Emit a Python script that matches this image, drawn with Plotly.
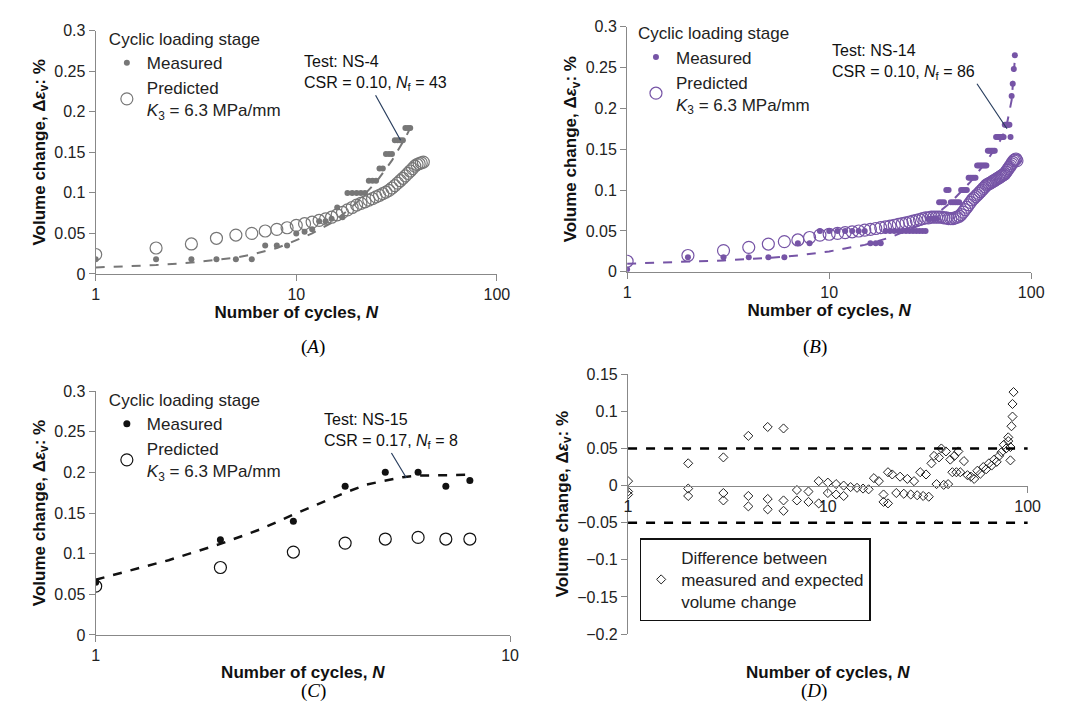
import plotly.graph_objects as go

# ---- Panel A (NS-4)
a_meas_n = list(range(1, 38))
a_meas_y = [0.018, 0.018, 0.018, 0.018, 0.018, 0.018, 0.035, 0.035, 0.035, 0.05,
            0.052, 0.055, 0.065, 0.065, 0.068, 0.082, 0.07, 0.1, 0.1, 0.1,
            0.1, 0.1, 0.115, 0.115, 0.115, 0.13, 0.13, 0.148, 0.148, 0.148,
            0.165, 0.165, 0.165, 0.165, 0.18, 0.18, 0.18]
a_pred_n = list(range(1, 44))
a_pred_y = [0.024, 0.032, 0.037, 0.044, 0.048, 0.05, 0.053, 0.055, 0.057, 0.06,
            0.062, 0.064, 0.066, 0.068, 0.07, 0.073, 0.076, 0.079, 0.082, 0.085,
            0.087, 0.089, 0.091, 0.093, 0.095, 0.097, 0.099, 0.101, 0.103, 0.106,
            0.109, 0.112, 0.115, 0.118, 0.121, 0.124, 0.127, 0.13, 0.133, 0.135,
            0.136, 0.137, 0.138]
a_fit_n = [1, 2, 3, 4, 5, 6, 7, 8, 9, 10, 12, 15, 18, 20, 25, 30, 35, 37]
a_fit_y = [0.008, 0.011, 0.014, 0.017, 0.02, 0.024, 0.028, 0.032, 0.037, 0.042,
           0.05, 0.063, 0.078, 0.088, 0.113, 0.14, 0.168, 0.18]

# ---- Panel B (NS-14)
b_meas_n = list(range(1, 84))
b_meas_y = [0.003, 0.018, 0.018, 0.018, 0.018, 0.018, 0.035, 0.035, 0.05, 0.05,
            0.05, 0.05, 0.05, 0.05, 0.05, 0.035, 0.035, 0.035, 0.05, 0.05,
            0.05, 0.05, 0.05, 0.05, 0.05, 0.05, 0.05, 0.05, 0.05, 0.05,
            0.065, 0.065, 0.065, 0.065, 0.085, 0.085, 0.085, 0.1, 0.1, 0.085,
            0.085, 0.085, 0.085, 0.085, 0.1, 0.1, 0.1, 0.1, 0.115, 0.115,
            0.115, 0.115, 0.115, 0.13, 0.13, 0.13, 0.13, 0.13, 0.13, 0.13,
            0.148, 0.148, 0.148, 0.148, 0.148, 0.148, 0.165, 0.165, 0.165, 0.165,
            0.165, 0.165, 0.165, 0.18, 0.18, 0.18, 0.18, 0.18, 0.165, 0.215,
            0.23, 0.248, 0.265]
b_pred_n = list(range(1, 86))
b_pred_y = [0.013, 0.02, 0.026, 0.03, 0.034, 0.037, 0.039, 0.042, 0.045, 0.046,
            0.047, 0.048, 0.049, 0.05, 0.051, 0.052, 0.053, 0.054, 0.055, 0.056,
            0.057, 0.058, 0.059, 0.06, 0.061, 0.062, 0.063, 0.064, 0.065, 0.066,
            0.066, 0.067, 0.067, 0.067, 0.067, 0.067, 0.066, 0.066, 0.065, 0.065,
            0.065, 0.066, 0.067, 0.068, 0.07, 0.073, 0.076, 0.079, 0.082, 0.085,
            0.088, 0.09, 0.092, 0.094, 0.096, 0.098, 0.1, 0.102, 0.104, 0.106,
            0.107, 0.108, 0.109, 0.11, 0.111, 0.112, 0.113, 0.114, 0.115, 0.116,
            0.117, 0.118, 0.119, 0.12, 0.122, 0.124, 0.126, 0.128, 0.13, 0.132,
            0.134, 0.136, 0.137, 0.138, 0.136]
b_fit_n = [1, 2, 3, 5, 7, 10, 15, 20, 30, 40, 50, 60, 70, 75, 80, 83]
b_fit_y = [0.01, 0.012, 0.014, 0.017, 0.02, 0.025, 0.033, 0.042, 0.06, 0.085,
           0.11, 0.135, 0.16, 0.175, 0.21, 0.26]

# ---- Panel C (NS-15)
c_n = [1, 2, 3, 4, 5, 6, 7, 8]
c_meas_y = [0.065, 0.117, 0.14, 0.183, 0.2, 0.2, 0.183, 0.19]
c_pred_y = [0.06, 0.083, 0.102, 0.113, 0.118, 0.12, 0.118, 0.118]
c_fit_n = [1, 1.5, 2, 2.5, 3, 3.5, 4, 4.5, 5, 5.5, 6, 7, 8]
c_fit_y = [0.068, 0.092, 0.112, 0.13, 0.148, 0.163, 0.175, 0.185, 0.19, 0.194, 0.196, 0.197, 0.197]

# ---- Panel D (differences)
d_n = [1, 1, 1, 2, 2, 2, 3, 3, 3, 4, 4, 4, 5, 5, 5, 6, 6, 6, 7, 7, 8, 8,
       9, 9, 10, 10, 11, 11, 12, 12, 13, 14, 15, 16, 17, 18, 19, 19, 20, 20,
       21, 22, 23, 24, 25, 26, 27, 28, 29, 30, 31, 32, 33, 34, 35, 36, 37, 38,
       39, 40, 41, 42, 43, 44, 45, 46, 48, 50, 52, 54, 56, 58, 60, 62, 64, 66,
       68, 70, 72, 74, 76, 78, 80, 80, 82, 82, 83, 84, 84, 85]
d_y = [0.006, -0.008, -0.012, 0.03, -0.004, -0.014, 0.038, -0.01, -0.02, 0.067, -0.014, -0.028,
       0.079, -0.018, -0.032, 0.077, -0.02, -0.034, -0.006, -0.02, -0.008, -0.022,
       0.006, -0.024, 0.004, -0.01, 0.002, -0.012, 0.0, -0.014, -0.002, -0.003, -0.004,
       -0.005, 0.01, 0.006, -0.022, -0.012, -0.024, 0.018, 0.015, -0.01, 0.012, -0.011,
       0.009, -0.012, 0.006, -0.013, 0.018, -0.014, 0.015, -0.015, 0.03, 0.04, 0.002, 0.038,
       0.05, 0.001, 0.046, 0.002, 0.035, 0.018, 0.04, 0.018, 0.046, 0.018, 0.033, 0.014,
       0.012, 0.009, 0.02, 0.016, 0.025, 0.022, 0.03, 0.027, 0.035, 0.032, 0.04, 0.045,
       0.055, 0.05, 0.06, 0.065, 0.034, 0.052, 0.08, 0.093, 0.11, 0.126]
d_limits = [0.05, -0.05]

font_tick = dict(family="Liberation Sans, Arial", size=16, color="#222")
font_leg = dict(family="Liberation Sans, Arial", size=17, color="#222")
font_title = dict(family="Liberation Sans, Arial", size=17, color="#111")
ytitle = "<b>Volume change, Δ<i>ε</i><sub>v</sub>: %</b>"
xtitle = "<b>Number of cycles, <i>N</i></b>"

fig = go.Figure()

panels = [
    ("x", "y", "legend", "#777777", a_meas_n, a_meas_y, a_pred_n, a_pred_y, a_fit_n, a_fit_y),
    ("x2", "y2", "legend2", "#7654a6", b_meas_n, b_meas_y, b_pred_n, b_pred_y, b_fit_n, b_fit_y),
    ("x3", "y3", "legend3", "#111111", c_n, c_meas_y, c_n, c_pred_y, c_fit_n, c_fit_y),
]
for xa, ya, lg, col, mn, my, pn, py, fn, fy in panels:
    big = xa == "x3"
    fig.add_trace(go.Scatter(x=fn, y=fy, mode="lines", xaxis=xa, yaxis=ya, showlegend=False,
                             line=dict(color=col, width=2.5 if big else 2, dash="dash")))
    fig.add_trace(go.Scatter(x=mn, y=my, mode="markers", xaxis=xa, yaxis=ya, legend=lg,
                             name="Measured",
                             marker=dict(color=col, size=7 if big else 6)))
    fig.add_trace(go.Scatter(x=pn, y=py, mode="markers", xaxis=xa, yaxis=ya, legend=lg,
                             name="Predicted<br><i>K</i><sub>3</sub> = 6.3 MPa/mm",
                             marker=dict(color="rgba(0,0,0,0)", size=12,
                                         line=dict(color=col, width=1.2))))

fig.add_trace(go.Scatter(x=d_n, y=d_y, mode="markers", xaxis="x4", yaxis="y4", legend="legend4",
                         name="Difference between<br>measured and expected<br>volume change",
                         marker=dict(symbol="diamond-open", size=7, color="#222",
                                     line=dict(width=1))))

ax_common = dict(type="log", showgrid=False, showline=True, linecolor="#888", linewidth=1.2,
                 ticks="outside", tickcolor="#888", ticklen=6, tickfont=font_tick,
                 title=dict(text=xtitle, font=font_title, standoff=2), zeroline=False)
ay_common = dict(showgrid=False, showline=True, linecolor="#888", linewidth=1.2,
                 ticks="outside", tickcolor="#888", ticklen=6, tickfont=font_tick,
                 title=dict(text=ytitle, font=font_title, standoff=4), zeroline=False)

fig.update_layout(
    width=1071, height=718, margin=dict(l=0, r=0, t=0, b=0),
    plot_bgcolor="white", paper_bgcolor="white",
    xaxis=dict(ax_common, domain=[0.0794, 0.460], range=[0, 2], anchor="y",
               tickvals=[1, 10, 100], ticktext=["1", "10", "100"]),
    yaxis=dict(ay_common, domain=[0.632, 0.979], range=[0, 0.3], anchor="x", dtick=0.05),
    xaxis2=dict(ax_common, domain=[0.5836, 0.967], range=[0, 2], anchor="y2",
                tickvals=[1, 10, 100], ticktext=["1", "10", "100"]),
    yaxis2=dict(ay_common, domain=[0.635, 0.985], range=[0, 0.3], anchor="x2", dtick=0.05),
    xaxis3=dict(ax_common, domain=[0.0794, 0.4725], range=[0, 1], anchor="y3",
                tickvals=[1, 10], ticktext=["1", "10"]),
    yaxis3=dict(ay_common, domain=[0.117, 0.465], range=[0, 0.3], anchor="x3", dtick=0.05),
    xaxis4=dict(ax_common, domain=[0.5845, 0.9636], range=[0, 2], anchor="free", position=0.33,
                tickvals=[1, 10, 100], ticktext=["1", "10", "100"], title=dict(text="")),
    yaxis4=dict(ay_common, domain=[0.1184, 0.4889], range=[-0.2, 0.15], anchor="x4", dtick=0.05),
    legend=dict(x=0.09, y=0.99, xanchor="left", yanchor="top", bgcolor="rgba(0,0,0,0)",
                title=dict(text="Cyclic loading stage", font=font_leg), font=font_leg,
                itemwidth=30),
    legend2=dict(x=0.592, y=0.998, xanchor="left", yanchor="top", bgcolor="rgba(0,0,0,0)",
                 title=dict(text="Cyclic loading stage", font=font_leg), font=font_leg,
                 itemwidth=30),
    legend3=dict(x=0.09, y=0.475, xanchor="left", yanchor="top", bgcolor="rgba(0,0,0,0)",
                 title=dict(text="Cyclic loading stage", font=font_leg), font=font_leg,
                 itemwidth=30),
    legend4=dict(x=0.5955, y=0.255, xanchor="left", yanchor="top", bgcolor="white",
                 bordercolor="#111", borderwidth=1.5, font=font_leg, itemwidth=30),
)

for lim in d_limits:
    fig.add_shape(type="line", xref="x4 domain", yref="y4", x0=0, x1=1, y0=lim, y1=lim,
                  line=dict(color="black", width=2.5, dash="dash"))

anno_font = dict(family="Liberation Sans, Arial", size=16, color="#111")
fig.add_annotation(x=1.52, y=0.165, xref="x", yref="y", ax=-25, ay=-45, showarrow=True, arrowhead=0,
                   arrowwidth=1.2, text="Test: NS-4<br>CSR = 0.10, <i>N</i><sub>f</sub> = 43",
                   align="left", font=anno_font, xanchor="center", yanchor="bottom")
fig.add_annotation(x=1.88, y=0.175, xref="x2", yref="y2", ax=-30, ay=-45, showarrow=True, arrowhead=0,
                   arrowwidth=1.2, text="Test: NS-14<br>CSR = 0.10, <i>N</i><sub>f</sub> = 86",
                   align="left", font=anno_font, xanchor="right", yanchor="bottom")
fig.add_annotation(x=0.75, y=0.193, xref="x3", yref="y3", ax=-15, ay=-25, showarrow=True, arrowhead=0,
                   arrowwidth=1.2, text="Test: NS-15<br>CSR = 0.17, <i>N</i><sub>f</sub> = 8",
                   align="left", font=anno_font, xanchor="center", yanchor="bottom")
fig.add_annotation(x=0.5, y=0.063, xref="x4 domain", yref="paper", yanchor="middle", showarrow=False,
                   text=xtitle, font=font_title)

cap_font = dict(family="Liberation Serif, Times New Roman", size=19, color="black")
for txt, xp, yp in [("(<i>A</i>)", 0.272, 0.528), ("(<i>B</i>)", 0.775, 0.528),
                    ("(<i>C</i>)", 0.272, 0.018), ("(<i>D</i>)", 0.775, 0.018)]:
    fig.add_annotation(x=xp, y=yp, xref="paper", yref="paper", showarrow=False, text=txt,
                       font=cap_font)

fig.write_html("out.html")
